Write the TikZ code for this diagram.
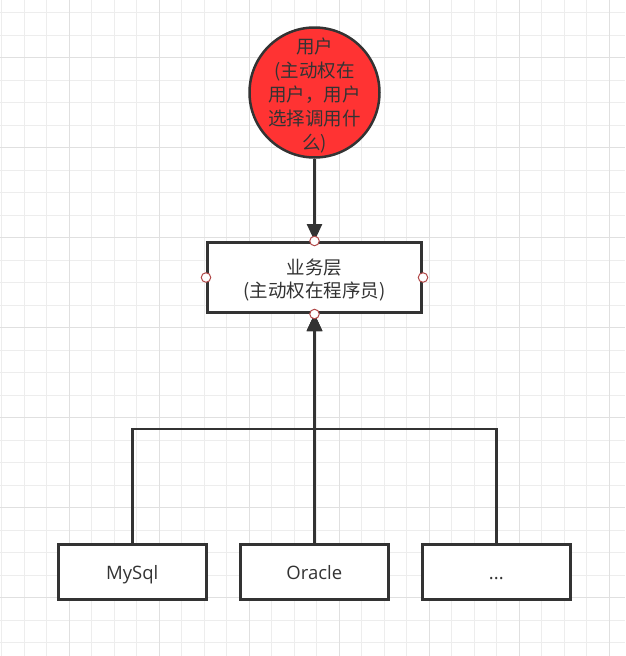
\documentclass[tikz,border=0pt]{standalone}
\usepackage{fontspec}
\setmainfont{Open Sans}
\newfontfamily\cjk{Noto Sans CJK SC}
\usepackage{xcolor}
\usetikzlibrary{arrows.meta}
\definecolor{ink}{HTML}{333333}
\definecolor{userred}{HTML}{FF3333}
\definecolor{pinred}{HTML}{B24A4A}
\definecolor{gridminor}{HTML}{EDEDED}
\definecolor{gridmajor}{HTML}{E0E0E0}
\tikzset{
	layerbox/.style={draw=ink, line width=3pt, fill=white,
			minimum width=214pt, minimum height=70pt, inner sep=0pt},
	dbbox/.style={draw=ink, line width=3pt, fill=white, text=ink,
			minimum width=148pt, minimum height=55pt, inner sep=0pt,
			text height=15.6pt, text depth=0pt,
			font=\fontsize{18.5}{22}\selectfont},
	userball/.style={circle, draw=ink, line width=2.5pt, fill=userred,
			minimum size=130pt, inner sep=0pt},
	cjktext/.style={text=ink, align=center, inner sep=0pt,
			font={\cjk\fontsize{18.5}{#1}\selectfont}},
	link/.style={draw=ink, line width=2.5pt},
	tip/.style={-{Triangle[width=15pt,length=17pt]}},
	pin/.style={circle, draw=pinred, line width=1pt, fill=white, minimum size=9.5pt, inner sep=0pt}
}

\begin{document}
\begin{tikzpicture}[x=1pt,y=-1pt]

			\useasboundingbox (0,0) rectangle (625,656);
			\fill[white] (0,0) rectangle (625,656);

			% Grid
			\foreach \i in {0,...,27} {
				\draw[gridminor, line width=1pt] ({1.7+22.5*\i},0) -- ++(0,656);
			}
			\foreach \j in {0,...,29} {
				\draw[gridminor, line width=1pt] (0,{12.7+22.5*\j}) -- ++(625,0);
			}
			\foreach \i in {0,...,6} {
				\draw[gridmajor, line width=1pt] ({69.3+90*\i},0) -- ++(0,656);
			}
			\foreach \j in {0,...,6} {
				\draw[gridmajor, line width=1pt] (0,{57.7+90*\j}) -- ++(625,0);
			}

			% Nodes
			\node[userball] (user) at (314.5,92.5) {};
			\node[cjktext=24] (usertext) at (314.5,95.5)
				{用户\\(主动权在\\用户，用户\\选择调用什\\么)};
			\node[layerbox] (biz) at (314.5,277.5) {};
			\node[cjktext=23] (biztext) at (314.5,280.5)
				{业务层\\(主动权在程序员)};
			\node[dbbox] (mysql) at (132.3,571.5) {MySql};
			\node[dbbox] (oracle) at (314.3,571.5) {Oracle};
			\node[dbbox] (more) at (496.3,571.5) {...};

			% Connectors
			\coordinate (join) at (314.5,429);
			\draw[link, tip] (user) -- (biz);
			\foreach \db in {mysql,oracle,more} {
				\draw[link, tip] (\db.north) |- (join) -- (biz.south);
			}

			% Connection points
			\foreach \side in {north,south,east,west} {
				\node[pin] (pin-\side) at (biz.\side) {};
			}

		\end{tikzpicture}
\end{document}
